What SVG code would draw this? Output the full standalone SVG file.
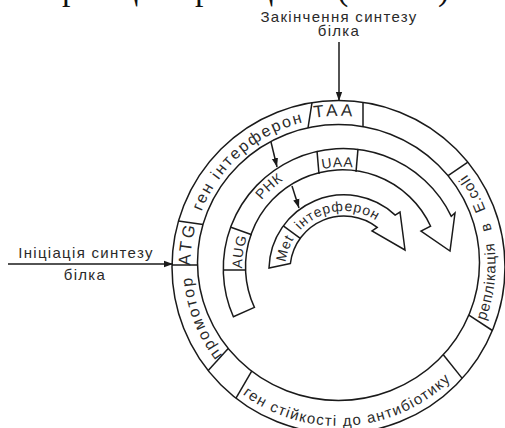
<svg xmlns="http://www.w3.org/2000/svg" width="505" height="428" viewBox="0 0 505 428">
<style>
.ln{fill:none;stroke:#1a1a1a;stroke-width:1.5}
.band{fill:#fff;stroke:#1a1a1a;stroke-width:1.5;stroke-linejoin:miter}
.lbl{font-family:"Liberation Sans",Arial,sans-serif;fill:#2a2a2a}
.ring{font-family:"Liberation Sans",Arial,sans-serif;fill:#2a2a2a;font-size:16px;letter-spacing:2px}
.caps{font-family:"Liberation Sans",Arial,sans-serif;fill:#2a2a2a;font-size:17px;letter-spacing:3px}
.bnd{font-family:"Liberation Sans",Arial,sans-serif;fill:#2a2a2a;font-size:14px;letter-spacing:0.8px}
.cut{font-family:"Liberation Serif","Times New Roman",serif;font-size:34px;fill:#111}
</style>
<defs>
<marker id="ah" viewBox="0 0 10 10" refX="10" refY="5" markerWidth="9" markerHeight="9" orient="auto" markerUnits="userSpaceOnUse"><path d="M0,1.5 L10,5 L0,8.5 z" fill="#1a1a1a"/></marker>
<path id="pPromotor" d="M236.4,370.7 A147,147 0 0 1 191.9,254.7"/>
<path id="pATG" d="M193.7,295.8 A148,148 0 0 1 207.8,195.5"/>
<path id="pGen" d="M193.3,242.0 A147,147 0 0 1 335.9,118.0"/>
<path id="pTAA" d="M283.9,126.4 A149,149 0 0 1 385.8,123.7"/>
<path id="pRepl" d="M470.6,349.8 A157,157 0 0 0 445.0,149.6"/>
<path id="pAnti" d="M222.7,376.8 A161,161 0 0 0 468.7,359.6"/>
<path id="pAUG" d="M243.9,287.3 A101,101 0 0 1 254.7,219.0"/>
<path id="pRNK" d="M249.3,218.4 A106,106 0 0 1 303.1,169.8"/>
<path id="pUAA" d="M303.5,175.0 A101,101 0 0 1 372.5,171.4"/>
<path id="pMet" d="M285,270 A59,59 0 0 1 298.8,232.1"/>
<path id="pInt" d="M297.5,233.7 A59,59 0 0 1 380.3,223.5"/>
</defs>

<text class="cut" y="0"><tspan x="62">р</tspan><tspan x="120">ц</tspan><tspan x="195">р</tspan><tspan x="255">ц</tspan><tspan x="337">(</tspan><tspan x="438">)</tspan></text>

<g id="plasmid">
<circle class="ln" cx="338.5" cy="267" r="166.5"/>
<ellipse class="ln" cx="338.5" cy="262.5" rx="141" ry="138"/>
<g id="dividers">
<line class="ln" x1="172" y1="265" x2="197.5" y2="265"/>
<line class="ln" x1="178.4" y1="221.1" x2="203.0" y2="224.5"/>
<line class="ln" x1="312" y1="102.6" x2="308" y2="127.8"/>
<line class="ln" x1="363" y1="102.3" x2="363" y2="126.6"/>
<line class="ln" x1="467.9" y1="162.2" x2="448.1" y2="175.7"/>
<line class="ln" x1="492.4" y1="330.5" x2="468.9" y2="315.1"/>
<line class="ln" x1="462.2" y1="378.4" x2="443.3" y2="354.8"/>
<line class="ln" x1="236" y1="398.2" x2="251.7" y2="371.2"/>
<line class="ln" x1="208.2" y1="370.6" x2="228.2" y2="348.4"/>
</g>
</g>

<g id="promotor"><text class="ring"><textPath href="#pPromotor" startOffset="50%" text-anchor="middle">промотор</textPath></text></g>
<g id="atg"><text class="caps"><textPath href="#pATG" startOffset="50%" text-anchor="middle">ATG</textPath></text></g>
<g id="gen-interferon"><text class="ring"><textPath href="#pGen" startOffset="50%" text-anchor="middle">ген інтерферон</textPath></text></g>
<g id="taa"><text class="caps"><textPath href="#pTAA" startOffset="50%" text-anchor="middle">TAA</textPath></text></g>
<g id="replication"><text class="lbl" font-size="15" letter-spacing="0.8" word-spacing="7"><textPath href="#pRepl" startOffset="50%" text-anchor="middle">реплікація в E.coli</textPath></text></g>
<g id="antibiotic"><text class="lbl" font-size="15" letter-spacing="1.3"><textPath href="#pAnti" startOffset="50%" text-anchor="middle">ген стійкості до антибіотику</textPath></text></g>

<g id="rna">
<path class="band" d="M254.4,307.4 L233.4,316.8 A120,120 0 0 1 451.3,216.3 L455,213 L450,251 L421,231 L430.6,226.2 A97,97 0 0 0 254.4,307.4 Z"/>
<line class="ln" x1="223" y1="270" x2="246" y2="270"/>
<line class="ln" x1="230.2" y1="227.0" x2="251.8" y2="234.8"/>
<line class="ln" x1="317" y1="150.9" x2="319" y2="174"/>
<line class="ln" x1="358" y1="148.9" x2="356" y2="171.9"/>
<text class="bnd"><textPath href="#pAUG" startOffset="50%" text-anchor="middle">AUG</textPath></text>
<text class="bnd" font-size="15"><textPath href="#pRNK" startOffset="50%" text-anchor="middle">РНК</textPath></text>
<text class="bnd" font-size="15" letter-spacing="0"><textPath href="#pUAA" startOffset="50%" text-anchor="middle">UAA</textPath></text>
</g>

<g id="protein">
<path class="band" d="M290.4,263.4 L269,268 A75,75 0 0 1 395.2,215.1 L400,212 L405,250 L372,231 L377.2,227.4 A54,54 0 0 0 290.4,263.4 Z"/>
<line class="ln" x1="283.3" y1="225.9" x2="300.3" y2="238.3"/>
<text class="bnd" font-size="13"><textPath href="#pMet" startOffset="50%" text-anchor="middle">Met</textPath></text>
<text class="bnd"><textPath href="#pInt" startOffset="50%" text-anchor="middle">інтерферон</textPath></text>
</g>

<g id="label-end">
<text class="lbl" font-size="15" letter-spacing="1.3" x="339" y="22" text-anchor="middle">Закінчення синтезу</text>
<text class="lbl" font-size="15" letter-spacing="1.3" x="339" y="36" text-anchor="middle">білка</text>
</g>
<g id="label-start">
<text class="lbl" font-size="15" letter-spacing="1.3" x="86" y="258" text-anchor="middle">Ініціація синтезу</text>
<text class="lbl" font-size="15" letter-spacing="1.3" x="85" y="280" text-anchor="middle">білка</text>
</g>

<g id="connectors">
<line class="ln" x1="339" y1="42" x2="339" y2="101" marker-end="url(#ah)"/>
<line class="ln" x1="8" y1="264" x2="173" y2="264" marker-end="url(#ah)"/>
<line class="ln" x1="271" y1="142" x2="277" y2="167" marker-end="url(#ah)"/>
<line class="ln" x1="292" y1="186" x2="299" y2="208" marker-end="url(#ah)"/>
</g>
</svg>
